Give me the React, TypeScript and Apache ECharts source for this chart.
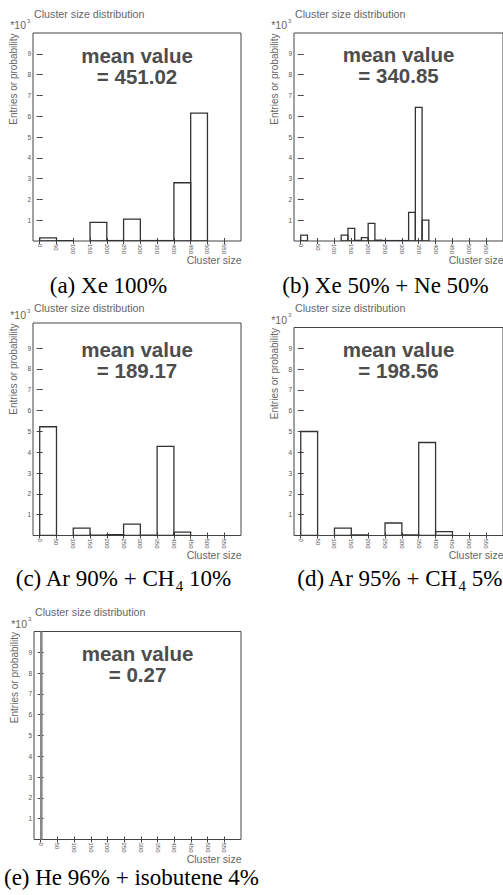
import React, { useEffect, useRef } from 'react';
import * as echarts from 'echarts';

// ---------- data ----------
const X_TICKS = [0, 50, 100, 150, 200, 250, 300, 350, 400, 450, 500, 550];
const Y_TICKS = [1, 2, 3, 4, 5, 6, 7, 8, 9];

// entries (x10^3) per bin, bins start at 0
const BIN_WIDTH_A = 50;
const COUNTS_A = [0.15, 0.02, 0, 0.9, 0.02, 1.05, 0.02, 0.02, 2.8, 6.15];
const BIN_WIDTH_B = 20;
const COUNTS_B = [0.28, 0, 0, 0, 0, 0, 0.28, 0.61, 0.03, 0.16, 0.85, 0.04, 0.02, 0.02, 0.02, 0.02, 1.38, 6.42, 1.0];
const BIN_WIDTH_C = 50;
const COUNTS_C = [5.22, 0, 0.35, 0.02, 0.04, 0.55, 0.02, 4.28, 0.16];
const BIN_WIDTH_D = 50;
const COUNTS_D = [5.0, 0, 0.35, 0.03, 0, 0.6, 0.03, 4.47, 0.19];
const BIN_WIDTH_E = 4;
const COUNTS_E = [12];

const MEANS = ['451.02', '340.85', '189.17', '198.56', '0.27'];
const CAPTIONS = [
  [{ t: '(a) Xe 100%' }],
  [{ t: '(b) Xe 50% + Ne 50%' }],
  [{ t: '(c) Ar 90% + CH' }, { t: '4', sub: true }, { t: ' 10%' }],
  [{ t: '(d) Ar 95% + CH' }, { t: '4', sub: true }, { t: ' 5%' }],
  [{ t: '(e) He 96% + isobutene 4%' }],
];

// ---------- layout ----------
const PANELS = [
  { L: 33, T: 33, W: 208, H: 208, ymax: 10, titleY: 14, meanY: [55, 76.2], capX: 108.5, capBase: 293.5, bw: BIN_WIDTH_A, counts: COUNTS_A, color: '#333' },
  { L: 294, T: 33, W: 209, H: 208, ymax: 10, titleY: 14, meanY: [54, 75.2], capX: 385.5, capBase: 293.5, bw: BIN_WIDTH_B, counts: COUNTS_B, color: '#333' },
  { L: 33, T: 323, W: 208, H: 212.5, ymax: 10.2, titleY: 307.5, meanY: [349, 370.2], capX: 123.4, capBase: 586.7, bw: BIN_WIDTH_C, counts: COUNTS_C, color: '#333' },
  { L: 294, T: 327.5, W: 209, H: 208, ymax: 10, titleY: 307.5, meanY: [349.5, 370.7], capX: 399.8, capBase: 586.7, bw: BIN_WIDTH_D, counts: COUNTS_D, color: '#333' },
  { L: 34, T: 631.5, W: 207, H: 208, ymax: 10, titleY: 611.7, meanY: [653, 674.2], capX: 131.5, capBase: 885, bw: BIN_WIDTH_E, counts: COUNTS_E, color: '#888' },
];

const SANS = '"Liberation Sans", Arial, Helvetica, sans-serif';
const SERIF = '"Liberation Serif", "Times New Roman", Times, serif';
const TEXT_GRAY = '#555';

function measure(text: string, size: number, family: string) {
  const ctx = document.createElement('canvas').getContext('2d');
  if (!ctx) return text.length * size * 0.5;
  ctx.font = `${size}px ${family}`;
  return ctx.measureText(text).width;
}

export default function App() {
  const ref = useRef<HTMLDivElement>(null);

  useEffect(() => {
    if (!ref.current) return;
    const chart = echarts.init(ref.current, undefined, { renderer: 'svg' });

    const grid: any[] = [];
    const xAxis: any[] = [];
    const yAxis: any[] = [];
    const series: any[] = [];
    const graphics: any[] = [];

    PANELS.forEach((p, i) => {
      grid.push({
        left: p.L, top: p.T, width: p.W, height: p.H,
        show: true, borderColor: '#444', borderWidth: 1, backgroundColor: 'transparent',
      });
      const tick = { inside: true, length: 3, customValues: X_TICKS, lineStyle: { color: '#444', width: 1 } };
      const ytick = { inside: true, length: 3, customValues: Y_TICKS, lineStyle: { color: '#444', width: 1 } };
      xAxis.push({
        type: 'value', gridIndex: i, min: -20, max: 600, position: 'bottom',
        axisLine: { show: false }, splitLine: { show: false }, axisTick: tick,
        axisLabel: { customValues: X_TICKS, rotate: -90, fontSize: 6, color: TEXT_GRAY, margin: 3, fontFamily: SANS },
      });
      xAxis.push({
        type: 'value', gridIndex: i, min: -20, max: 600, position: 'top',
        axisLine: { show: false }, splitLine: { show: false }, axisTick: tick, axisLabel: { show: false },
      });
      yAxis.push({
        type: 'value', gridIndex: i, min: 0, max: p.ymax, position: 'left',
        axisLine: { show: false }, splitLine: { show: false }, axisTick: ytick,
        axisLabel: { customValues: Y_TICKS, fontSize: 6.5, color: TEXT_GRAY, margin: 2, fontFamily: SANS },
      });
      yAxis.push({
        type: 'value', gridIndex: i, min: 0, max: p.ymax, position: 'right',
        axisLine: { show: false }, splitLine: { show: false }, axisTick: ytick, axisLabel: { show: false },
      });

      const data = p.counts
        .map((v, k) => [k * p.bw, (k + 1) * p.bw, v])
        .filter((d) => d[2] > 0);
      const color = p.color;
      series.push({
        type: 'custom', xAxisIndex: 2 * i, yAxisIndex: 2 * i, clip: true,
        encode: { x: [0, 1], y: 2 },
        data,
        renderItem: (_params: any, api: any) => {
          const a = api.coord([api.value(0), api.value(2)]);
          const b = api.coord([api.value(1), 0]);
          return {
            type: 'rect',
            shape: { x: a[0], y: a[1], width: b[0] - a[0], height: b[1] - a[1] },
            style: { fill: 'none', stroke: color, lineWidth: 1.3 },
          };
        },
      });

      const cx = p.L + p.W / 2;
      graphics.push({ type: 'text', x: p.L + 1, y: p.titleY, style: { text: 'Cluster size distribution', fontSize: 10.7, fontFamily: SANS, fill: '#666', align: 'left', verticalAlign: 'middle' } });
      graphics.push({ type: 'text', x: p.L - 7, y: p.T - 8, style: { text: '*10', fontSize: 10.5, fontFamily: SANS, fill: '#666', align: 'right', verticalAlign: 'middle' } });
      graphics.push({ type: 'text', x: p.L - 6, y: p.T - 12.5, style: { text: '3', fontSize: 6, fontFamily: SANS, fill: '#666', align: 'left', verticalAlign: 'middle' } });
      graphics.push({ type: 'text', x: p.L - 20, y: p.T + 0.5, rotation: Math.PI / 2, style: { text: 'Entries or probability', fontSize: 10, fontFamily: SANS, fill: '#666', align: 'right', verticalAlign: 'middle' } });
      graphics.push({ type: 'text', x: p.L + p.W + 0.5, y: p.T + p.H + 19, style: { text: 'Cluster size', fontSize: 10.5, fontFamily: SANS, fill: '#666', align: 'right', verticalAlign: 'middle' } });
      graphics.push({ type: 'text', x: cx, y: p.meanY[0], style: { text: 'mean value', fontSize: 20.5, fontWeight: 'bold', fontFamily: SANS, fill: '#4d4d4d', align: 'center', verticalAlign: 'middle' } });
      graphics.push({ type: 'text', x: cx, y: p.meanY[1], style: { text: '= ' + MEANS[i], fontSize: 20.5, fontWeight: 'bold', fontFamily: SANS, fill: '#4d4d4d', align: 'center', verticalAlign: 'middle' } });

      const parts = CAPTIONS[i];
      const MAIN = 23, SUB = 15;
      const widths = parts.map((pt: any) => measure(pt.t, pt.sub ? SUB : MAIN, SERIF));
      const total = widths.reduce((s, w) => s + w, 0);
      let x = p.capX - total / 2;
      parts.forEach((pt: any, k: number) => {
        const size = pt.sub ? SUB : MAIN;
        const base = p.capBase + (pt.sub ? 4.5 : 0);
        graphics.push({ type: 'text', x, y: base - 0.3375 * size, style: { text: pt.t, fontSize: size, fontFamily: SERIF, fill: '#000', align: 'left', verticalAlign: 'middle' } });
        x += widths[k];
      });
    });

    chart.setOption({
      animation: false,
      backgroundColor: '#fff',
      grid, xAxis, yAxis, series,
      graphic: { elements: graphics },
    });

    return () => chart.dispose();
  }, []);

  return <div ref={ref} style={{ position: 'absolute', left: 0, top: 0, width: 503, height: 895 }} />;
}
